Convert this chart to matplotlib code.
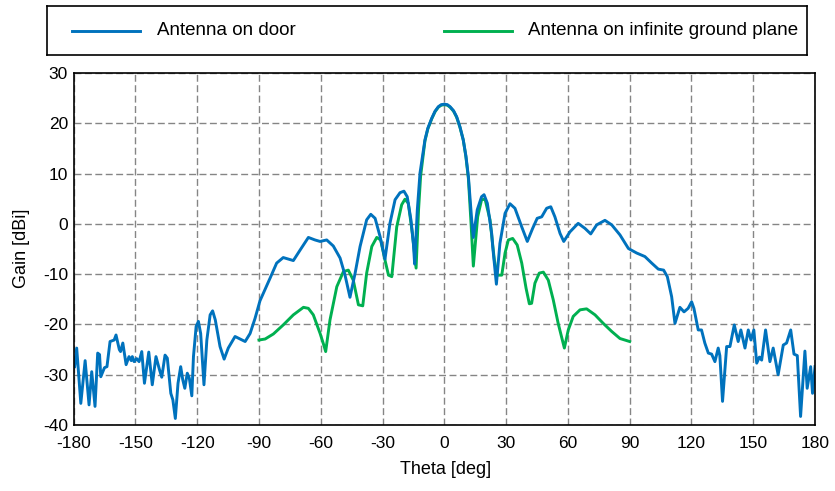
"""
Antenna gain pattern: antenna on door vs. antenna on infinite ground plane.
"""

import matplotlib
matplotlib.use('Agg')
import matplotlib.pyplot as plt
from matplotlib.lines import Line2D

plt.rcParams['font.family'] = ['Liberation Sans', 'DejaVu Sans']
plt.rcParams['axes.unicode_minus'] = False

# Antenna on door (full sweep)
theta_door = [
    -179.5, -178.5, -176.5, -174.4, -172.5, -171.2, -169.6, -168.3, -167.4, -166.8,
    -165.0, -163.8, -162.3, -160.3, -159.4, -157.8, -157.2, -156.1, -154.5, -153.1,
    -152.0, -151.5, -150.6, -149.4, -148.2, -146.9, -145.6, -143.5, -141.8, -140.0,
    -138.3, -137.2, -135.6, -134.5, -132.8, -131.8, -130.6, -129.3, -128.0, -127.0,
    -126.0, -124.8, -123.8, -122.6, -121.8, -120.5, -119.4, -118.3, -116.7, -115.3,
    -113.7, -112.5, -111.2, -108.9, -106.9, -104.9, -101.6, -99.2, -96.7, -94.3,
    -91.9, -89.5, -84.6, -81.4, -78.2, -75.7, -73.3, -70.0, -66.0, -62.8,
    -60.3, -57.1, -53.9, -50.6, -48.2, -45.8, -43.3, -40.9, -37.7, -35.7,
    -33.6, -31.2, -28.8, -26.4, -23.9, -21.5, -19.6, -18.0, -16.2, -15.0,
    -14.4, -13.1, -11.8, -9.4, -8.0, -6.1, -4.5, -2.9, -1.5, 0.0,
    1.5, 2.8, 4.5, 6.0, 7.6, 9.2, 10.5, 11.7, 13.3, 14.1,
    16.0, 18.1, 19.3, 20.9, 23.0, 23.5, 25.3, 27.0, 29.5, 31.9,
    34.3, 37.6, 40.3, 42.9, 45.1, 47.3, 49.7, 51.7, 53.7, 56.2,
    58.0, 61.0, 65.0, 68.3, 71.1, 74.0, 78.0, 81.3, 85.3, 89.4,
    93.4, 97.4, 100.7, 103.9, 106.5, 108.3, 110.4, 112.0, 114.4, 116.4,
    118.4, 120.1, 121.2, 123.3, 124.9, 126.5, 128.2, 129.8, 131.4, 133.0,
    133.8, 135.1, 137.1, 138.7, 140.8, 142.7, 144.0, 146.0, 147.6, 148.9,
    150.3, 151.7, 153.0, 154.1, 156.0, 158.1, 159.7, 162.1, 164.6, 166.2,
    168.2, 169.8, 171.4, 173.0, 175.1, 176.2, 177.9, 178.8, 180.0,
]
gain_door = [
    -28.4, -24.7, -35.7, -27.2, -36.0, -29.4, -36.3, -25.7, -26.0, -30.4,
    -28.6, -28.4, -23.4, -23.1, -22.1, -25.0, -25.4, -23.7, -28.0, -26.4,
    -27.2, -26.4, -27.4, -26.8, -27.4, -25.4, -31.7, -25.5, -32.0, -26.4,
    -29.0, -30.5, -26.1, -26.7, -33.7, -35.0, -38.7, -31.7, -28.4, -31.0,
    -32.7, -29.7, -30.7, -34.2, -26.4, -20.4, -19.4, -21.8, -32.0, -23.1,
    -18.1, -17.3, -19.1, -24.4, -26.9, -24.7, -22.4, -22.9, -23.4, -21.8,
    -18.8, -15.3, -10.8, -7.8, -6.7, -7.0, -7.3, -5.2, -2.7, -3.2,
    -3.5, -3.2, -4.4, -6.8, -10.2, -14.6, -9.8, -4.5, 0.8, 1.9,
    1.1, -2.5, -7.0, 0.1, 4.8, 6.2, 6.5, 5.4, 0.8, -4.0,
    -8.0, 2.8, 10.1, 16.7, 19.0, 21.0, 22.4, 23.3, 23.7, 23.8,
    23.7, 23.3, 22.5, 21.3, 19.3, 16.7, 13.5, 9.4, 0.8, -2.7,
    2.8, 5.4, 5.8, 4.1, -1.9, -4.5, -12.0, -3.9, 2.1, 4.0,
    3.1, -0.6, -3.5, -0.9, 1.1, 1.4, 3.1, 3.4, 1.4, -1.9,
    -3.5, -1.6, 0.1, -0.9, -2.0, -0.2, 0.7, -0.2, -2.2, -4.9,
    -5.8, -6.5, -7.8, -9.0, -9.2, -10.5, -14.5, -19.8, -16.6, -17.5,
    -16.8, -15.5, -16.8, -21.1, -21.1, -23.7, -25.7, -25.9, -27.4, -24.7,
    -26.2, -35.3, -24.4, -24.4, -20.1, -23.4, -21.1, -24.7, -21.1, -23.1,
    -21.1, -27.7, -26.5, -27.1, -21.1, -27.4, -24.7, -30.0, -24.1, -23.7,
    -21.1, -25.9, -26.2, -38.3, -25.3, -32.7, -28.4, -33.7, -28.4,
]

# Antenna on infinite ground plane (upper half space only)
theta_gp = [
    -90.0, -87.0, -83.0, -78.2, -73.3, -68.4, -66.0, -63.6, -60.3, -58.6,
    -57.6, -55.5, -52.2, -49.0, -46.6, -44.2, -41.7, -39.6, -37.7, -35.2,
    -32.8, -30.9, -28.8, -27.1, -25.5, -23.1, -20.7, -19.1, -17.5, -15.5,
    -13.7, -12.5, -11.5, -9.4, -8.0, -6.1, -4.5, -2.9, -1.5, 0.0,
    1.5, 2.8, 4.5, 6.0, 7.6, 9.2, 10.5, 11.7, 13.0, 14.1,
    16.2, 18.1, 19.8, 22.2, 24.3, 25.7, 27.9, 29.5, 31.1, 33.2,
    35.4, 37.6, 39.7, 41.3, 42.4, 44.0, 46.1, 48.1, 50.5, 52.9,
    55.3, 58.3, 60.2, 62.6, 65.9, 69.1, 73.2, 77.2, 81.3, 85.3,
    90.0,
]
gain_gp = [
    -23.1, -22.9, -21.9, -20.1, -18.1, -16.6, -16.8, -18.1, -21.8, -24.0,
    -25.4, -19.1, -12.5, -9.5, -9.2, -11.2, -16.1, -16.3, -9.8, -4.5,
    -2.7, -3.2, -7.2, -10.2, -10.5, -0.6, 3.8, 4.9, 4.1, -1.9,
    -8.8, 2.8, 9.5, 16.5, 18.9, 20.9, 22.3, 23.2, 23.6, 23.7,
    23.6, 23.2, 22.4, 21.2, 19.2, 16.7, 13.3, 9.0, 0.0, -8.4,
    1.4, 4.8, 4.9, 0.8, -7.2, -10.2, -10.2, -5.8, -3.2, -2.9,
    -4.2, -7.8, -12.8, -15.9, -15.8, -11.8, -9.8, -9.6, -11.2, -15.1,
    -19.8, -24.7, -21.1, -18.4, -17.1, -16.9, -18.1, -19.8, -21.4, -22.8,
    -23.4,
]

x_ticks = list(range(-180, 181, 30))
y_ticks = list(range(-40, 31, 10))
labels = ['Antenna on door', 'Antenna on infinite ground plane']

colors = {
    'door': '#0072BD',
    'ground': '#00B050',
    'grid': '#858585',
}

W, H = 835, 491
fig = plt.figure(figsize=(W / 100, H / 100), dpi=100)

# main axes
ax = fig.add_axes([73.6 / W, 1 - 425 / H, (815 - 73.6) / W, (425 - 73) / H])
ax.plot(theta_gp, gain_gp, color=colors['ground'], linewidth=2.1)
ax.plot(theta_door, gain_door, color=colors['door'], linewidth=2.1)
ax.set_xlim(-180, 180)
ax.set_ylim(-40, 30)
ax.set_xticks(x_ticks)
ax.set_yticks(y_ticks)
ax.tick_params(direction='in', length=0, labelsize=12.5)
ax.tick_params(axis='x', pad=8)
ax.tick_params(axis='y', pad=4)
ax.grid(True, color=colors['grid'], linestyle=(0, (5, 2.5)), linewidth=1.0)
for sp in ax.spines.values():
    sp.set_linewidth(1.2)

fig.text(446 / W, 1 - 470 / H, 'Theta [deg]', ha='center', va='center', fontsize=13)
fig.text(22 / W, 1 - 248 / H, 'Gain [dBi]', ha='center', va='center',
         rotation=90, fontsize=13)

# legend box (text is clipped at the right edge like the original)
lax = fig.add_axes([47 / W, 1 - 55 / H, (807 - 47) / W, (55 - 6) / H])
lax.set_xlim(47, 807)
lax.set_ylim(0, 1)
lax.set_xticks([])
lax.set_yticks([])
for sp in lax.spines.values():
    sp.set_linewidth(1.2)
lax.add_line(Line2D([72, 140], [0.5, 0.5], color=colors['door'], linewidth=2.1))
lax.add_line(Line2D([444, 512], [0.5, 0.5], color=colors['ground'], linewidth=2.1))
lax.text(157, 0.5, labels[0], va='center', ha='left', fontsize=13.5, clip_on=True)
lax.text(528, 0.5, labels[1], va='center', ha='left', fontsize=13.5, clip_on=True)

fig.savefig('out.png', dpi=100, facecolor='white')
